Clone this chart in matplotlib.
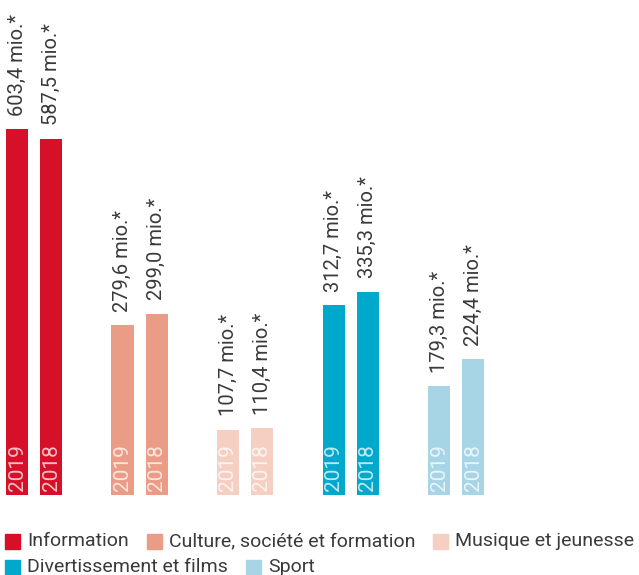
import matplotlib
matplotlib.use("Agg")
import matplotlib.pyplot as plt
from matplotlib.patches import Rectangle

# Data
categories = [
    "Information",
    "Culture, société et formation",
    "Musique et jeunesse",
    "Divertissement et films",
    "Sport",
]
values_2019 = [603.4, 279.6, 107.7, 312.7, 179.3]
values_2018 = [587.5, 299.0, 110.4, 335.3, 224.4]
value_labels_2019 = ["603,4 mio.*", "279,6 mio.*", "107,7 mio.*", "312,7 mio.*", "179,3 mio.*"]
value_labels_2018 = ["587,5 mio.*", "299,0 mio.*", "110,4 mio.*", "335,3 mio.*", "224,4 mio.*"]
years = ["2019", "2018"]
colors = ["#d7102a", "#eb9c86", "#f5cfc2", "#00a9cc", "#a8d5e6"]

W, H = 639, 575
base_px = 495
fig = plt.figure(figsize=(W / 100, H / 100), dpi=100)
ax = fig.add_axes([0, (H - base_px) / H, 1, base_px / H])
ax.set_axis_off()

px_per_unit = 0.6066
ax.set_ylim(0, base_px / px_per_unit)
ax.set_xlim(-34 / 105.5, (W - 34) / 105.5)

font = "Roboto"
offset = 17 / 105.5
width = 22 / 105.5

for i, cat in enumerate(categories):
    for j, (vals, labs) in enumerate([(values_2019, value_labels_2019),
                                      (values_2018, value_labels_2018)]):
        x = i + (-offset if j == 0 else offset)
        ax.bar(x, vals[i], width=width, color=colors[i])
        ax.text(x, vals[i] + 22, labs[i], rotation=90, ha="center", va="bottom",
                fontsize=14.5, color="#3a3a3a", family=font)
        ax.text(x, 7, years[j], rotation=90, ha="center", va="bottom",
                fontsize=15, color="white", alpha=0.75, family=font)

# Legend: two rows, first three entries on the top row
fig.canvas.draw()
renderer = fig.canvas.get_renderer()
rows_y = [541, 567]
x_px = 5
for k, (cat, col) in enumerate(zip(categories, colors)):
    row = 0 if k < 3 else 1
    if k == 3:
        x_px = 5
    y = rows_y[row]
    t = fig.text((x_px + 22) / W, 1 - y / H, cat, fontsize=14, family=font,
                 color="#3a3a3a", va="center", ha="left")
    tw = t.get_window_extent(renderer).width
    fig.patches.append(Rectangle((x_px / W, 1 - (y + 7.5) / H), 15 / W, 15 / H,
                                 transform=fig.transFigure, color=col))
    x_px += 22 + tw + 18

fig.savefig("out.png", dpi=100)
